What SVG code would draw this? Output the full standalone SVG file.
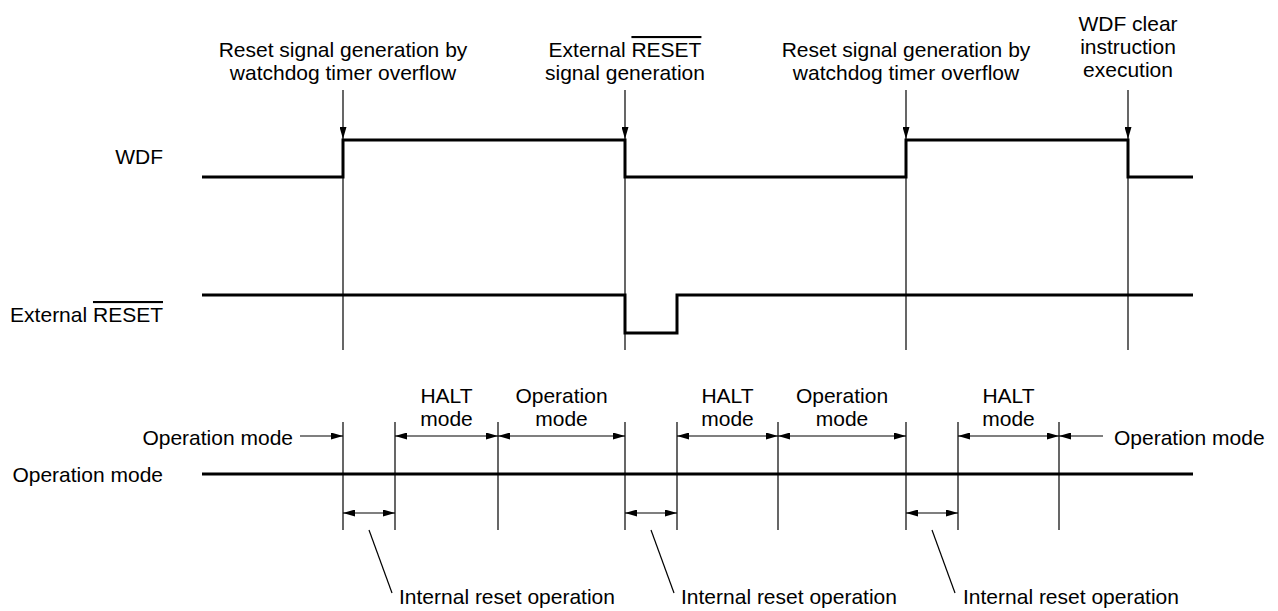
<svg xmlns="http://www.w3.org/2000/svg" width="1278" height="611" viewBox="0 0 1278 611">
<style>
text{font-family:"Liberation Sans",Arial,sans-serif;font-size:21px;fill:#000}
.c{text-anchor:middle}
.r{text-anchor:end}
.sig{fill:none;stroke:#000;stroke-width:3}
.thin{fill:none;stroke:#000;stroke-width:1.2}
.arr{fill:none;stroke:#000;stroke-width:1.2;marker-end:url(#ah)}
.dbl{fill:none;stroke:#000;stroke-width:1.2;marker-start:url(#ah);marker-end:url(#ah)}
.ov{text-decoration:overline}
</style>
<defs>
<marker id="ah" viewBox="0 0 12 7" refX="12" refY="3.5" markerWidth="12" markerHeight="7" markerUnits="userSpaceOnUse" orient="auto-start-reverse">
<path d="M0,0 L12,3.5 L0,7 z" fill="#000"/>
</marker>
</defs>
<rect width="1278" height="611" fill="#fff"/>

<g id="label-wdf"><text class="r" x="163" y="164">WDF</text></g>
<g id="label-ext-reset"><text class="r" x="163" y="322">External <tspan class="ov">RESET</tspan></text></g>
<g id="label-opmode"><text class="r" x="163" y="482">Operation mode</text></g>

<g id="ev-wdt1"><text class="c" x="343" y="57">Reset signal generation by</text><text class="c" x="343" y="80">watchdog timer overflow</text></g>
<g id="ev-ext"><text class="c" x="625" y="57">External <tspan class="ov">RESET</tspan></text><text class="c" x="625" y="80">signal generation</text></g>
<g id="ev-wdt2"><text class="c" x="906" y="57">Reset signal generation by</text><text class="c" x="906" y="80">watchdog timer overflow</text></g>
<g id="ev-clear"><text class="c" x="1128" y="31">WDF clear</text><text class="c" x="1128" y="54">instruction</text><text class="c" x="1128" y="77">execution</text></g>

<g id="sig-wdf"><polyline class="sig" points="202,177 343,177 343,140 625,140 625,177 906,177 906,140 1128,140 1128,177 1193,177"/></g>
<g id="sig-ext-reset"><polyline class="sig" points="202,295 625,295 625,333 677,333 677,295 1193,295"/></g>
<g id="sig-opmode"><line class="sig" x1="202" y1="474" x2="1193" y2="474"/></g>

<g id="mode-labels">
<text class="r" x="293" y="445">Operation mode</text>
<text class="c" x="446.5" y="403">HALT</text><text class="c" x="446.5" y="426">mode</text>
<text class="c" x="561.5" y="403">Operation</text><text class="c" x="561.5" y="426">mode</text>
<text class="c" x="727.5" y="403">HALT</text><text class="c" x="727.5" y="426">mode</text>
<text class="c" x="842" y="403">Operation</text><text class="c" x="842" y="426">mode</text>
<text class="c" x="1008.5" y="403">HALT</text><text class="c" x="1008.5" y="426">mode</text>
<text x="1114" y="445">Operation mode</text>
</g>

<g id="reset-labels">
<text x="399" y="604">Internal reset operation</text>
<text x="681" y="604">Internal reset operation</text>
<text x="963" y="604">Internal reset operation</text>
</g>

<g id="connectors">
<line class="arr" x1="343" y1="90" x2="343" y2="139"/>
<line class="arr" x1="625" y1="90" x2="625" y2="139"/>
<line class="arr" x1="906" y1="90" x2="906" y2="139"/>
<line class="arr" x1="1128" y1="90" x2="1128" y2="139"/>
<line class="thin" x1="343" y1="139" x2="343" y2="350"/>
<line class="thin" x1="625" y1="139" x2="625" y2="350"/>
<line class="thin" x1="906" y1="139" x2="906" y2="350"/>
<line class="thin" x1="1128" y1="139" x2="1128" y2="350"/>
<line class="thin" x1="343" y1="422" x2="343" y2="530"/>
<line class="thin" x1="395" y1="422" x2="395" y2="530"/>
<line class="thin" x1="498" y1="422" x2="498" y2="530"/>
<line class="thin" x1="625" y1="422" x2="625" y2="530"/>
<line class="thin" x1="677" y1="422" x2="677" y2="530"/>
<line class="thin" x1="778" y1="422" x2="778" y2="530"/>
<line class="thin" x1="906" y1="422" x2="906" y2="530"/>
<line class="thin" x1="958" y1="422" x2="958" y2="530"/>
<line class="thin" x1="1059" y1="422" x2="1059" y2="530"/>
<line class="arr" x1="300" y1="436" x2="343" y2="436"/>
<line class="dbl" x1="395" y1="436" x2="498" y2="436"/>
<line class="dbl" x1="498" y1="436" x2="625" y2="436"/>
<line class="dbl" x1="677" y1="436" x2="778" y2="436"/>
<line class="dbl" x1="778" y1="436" x2="906" y2="436"/>
<line class="dbl" x1="958" y1="436" x2="1059" y2="436"/>
<line class="arr" x1="1103" y1="436" x2="1059" y2="436"/>
<line class="dbl" x1="343" y1="513" x2="395" y2="513"/>
<line class="dbl" x1="625" y1="513" x2="677" y2="513"/>
<line class="dbl" x1="906" y1="513" x2="958" y2="513"/>
<line class="thin" x1="369" y1="530" x2="392" y2="593"/>
<line class="thin" x1="651" y1="530" x2="674" y2="593"/>
<line class="thin" x1="932" y1="530" x2="955" y2="593"/>
</g>
</svg>
